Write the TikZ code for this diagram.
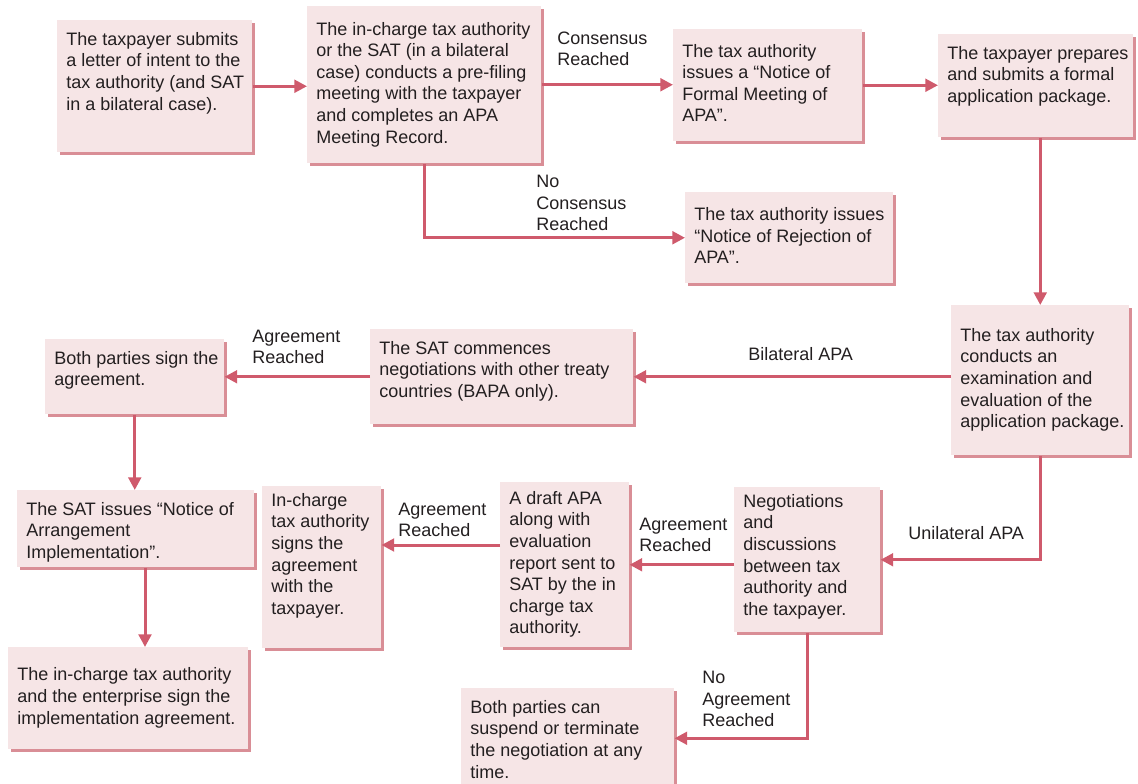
\documentclass[tikz,border=0pt]{standalone}
\usepackage{fontspec}
\setmainfont{Liberation Sans}
\usepackage{tikz}
\usetikzlibrary{arrows.meta, shadows}

\definecolor{boxfill}{HTML}{F6E5E6}
\definecolor{boxshade}{HTML}{D98E96}
\definecolor{flowred}{HTML}{CF5A6C}
\definecolor{inkgray}{HTML}{231F20}

\newlength{\pxu}
\setlength{\pxu}{0.75pt}
% box text: [t]op or [c]entred, width and height in px, lines
\newcommand{\steptext}[4][t]{\parbox[t][#3\pxu][#1]{#2\pxu}{\begin{tabular}[t]{@{}l@{}}#4\end{tabular}}}
% same, set a little higher
\newcommand{\steptextup}[3]{\parbox[t][#2\pxu][t]{#1\pxu}{\vspace*{-5\pxu}\begin{tabular}[t]{@{}l@{}}#3\end{tabular}}}

\begin{document}
\begin{tikzpicture}[x=0.75pt, y=-0.75pt, >={Triangle[length=9.5pt, width=9.5pt]}, font=\fontsize{13.5pt}{16.2pt}\selectfont, text=inkgray]
			\tikzstyle{stagebox}=[fill=boxfill, anchor=north west, inner xsep=6.75pt, inner ysep=7.5pt,
				drop shadow={shadow xshift=2.25pt, shadow yshift=-2.25pt, fill=boxshade, opacity=1}]
			\tikzstyle{flow}=[->, draw=flowred, line width=2.25pt]
			\tikzstyle{cond}=[align=left, anchor=west, inner sep=0pt]
			\useasboundingbox (0,0) rectangle (1138,784);

			% top row
			\node[stagebox] (b1) at (57,20)  {\steptext{177}{112}{The taxpayer submits\\a letter of intent to the\\tax authority (and SAT\\in a bilateral case).}};
			\node[stagebox] (b2) at (307,6)  {\steptext[c]{216}{137}{The in-charge tax authority\\or the SAT (in a bilateral\\case) conducts a pre-filing\\meeting with the taxpayer\\and completes an APA\\Meeting Record.}};
			\node[stagebox] (b3) at (673,29) {\steptext[c]{171}{92}{The tax authority\\issues a “Notice of\\Formal Meeting of\\APA”.}};
			\node[stagebox] (b4) at (938,34) {\steptext{177}{83}{The taxpayer prepares\\and submits a formal\\application package.}};
			\node[stagebox] (b5) at (685,192) {\steptext[c]{190}{71}{The tax authority issues\\“Notice of Rejection of\\APA”.}};

			% bilateral branch
			\node[stagebox] (b6) at (951,305) {\steptext[c]{160}{130}{The tax authority\\conducts an\\examination and\\evaluation of the\\application package.}};
			\node[stagebox] (b7) at (370,329) {\steptext{245}{75}{The SAT commences\\negotiations with other treaty\\countries (BAPA only).}};
			\node[stagebox] (b8) at (45,339)  {\steptext{161}{55}{Both parties sign the\\agreement.}};
			\node[stagebox] (b9) at (17,490)  {\steptext{219}{57}{The SAT issues “Notice of\\Arrangement\\Implementation”.}};
			\node[stagebox] (b10) at (8,647)  {\steptext[c]{222}{82}{The in-charge tax authority\\and the enterprise sign the\\implementation agreement.}};

			% unilateral branch
			\node[stagebox] (b11) at (262,486) {\steptextup{101}{142}{In-charge\\tax authority\\signs the\\agreement\\with the\\taxpayer.}};
			\node[stagebox] (b12) at (500,482) {\steptext[c]{111}{145}{A draft APA\\along with\\evaluation\\report sent to\\SAT by the in\\charge tax\\authority.}};
			\node[stagebox] (b13) at (734,487) {\steptextup{128}{125}{Negotiations\\and\\discussions\\between tax\\authority and\\the taxpayer.}};
			\node[stagebox] (b14) at (461,688) {\steptext{195}{80}{Both parties can\\suspend or terminate\\the negotiation at any\\time.}};

			% conditions
			\node[cond] (c1) at (557,49)  {Consensus\\Reached};
			\node[cond] (c2) at (536,203) {No\\Consensus\\Reached};
			\node[cond] (c3) at (748,354) {Bilateral APA};
			\node[cond] (c4) at (252,347) {Agreement\\Reached};
			\node[cond] (c5) at (908,533) {Unilateral APA};
			\node[cond] (c6) at (639,535) {Agreement\\Reached};
			\node[cond] (c7) at (398,520) {Agreement\\Reached};
			\node[cond] (c8) at (702,699) {No\\Agreement\\Reached};

			\draw[flow] (b1.east) -- (b1.east -| b2.west);
			\draw[flow] (b2.east) -- (b2.east -| b3.west);
			\draw[flow] (b2.south) |- (b5.west);
			\draw[flow] (b3.east) -- (b3.east -| b4.west);
			\draw[flow] (b4.south -| b6.north) -- (b6.north);
			\draw[flow] (b6.west |- b7.east) -- (b7.east);
			\draw[flow] (b7.west) -- (b7.west -| b8.east);
			\draw[flow] (b8.south) -- (b8.south |- b9.north);
			\draw[flow] (145,0 |- b9.south) -- (145,0 |- b10.north);
			\draw[flow] (b6.south) |- (b13.east);
			\draw[flow] (b13.west |- b12.east) -- (b12.east);
			\draw[flow] (b12.west |- 0,545) -- (b11.east |- 0,545);
			\draw[flow] (b13.south) |- (b14.east);
		\end{tikzpicture}
\end{document}
